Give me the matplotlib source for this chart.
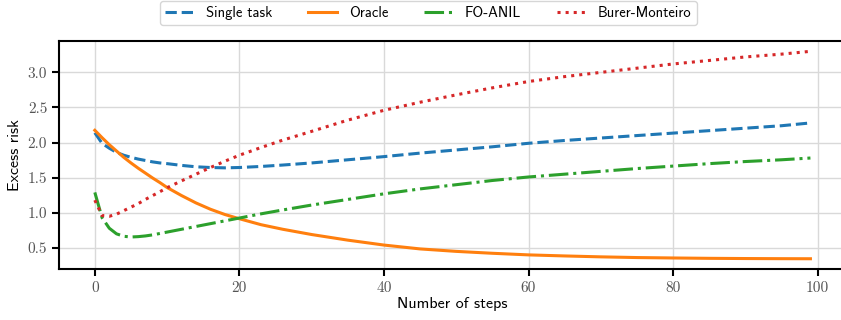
import matplotlib
matplotlib.use("Agg")
import matplotlib.pyplot as plt

# --------------------------------------------------------------------------- #
# values (excess risk vs. number of steps)
# --------------------------------------------------------------------------- #
steps = [0, 1, 2, 3, 4, 5, 6, 7, 8, 9, 10, 12, 14, 16, 18, 20, 23, 26, 30,
         35, 40, 45, 50, 55, 60, 65, 70, 75, 80, 85, 90, 95, 99]

single_task = [2.14, 1.99, 1.92, 1.86, 1.82, 1.79, 1.765, 1.745, 1.725, 1.71,
               1.70, 1.675, 1.655, 1.645, 1.64, 1.645, 1.66, 1.68, 1.71,
               1.755, 1.80, 1.85, 1.895, 1.94, 1.99, 2.03, 2.065, 2.10, 2.135,
               2.17, 2.205, 2.24, 2.28]

oracle = [2.175, 2.07, 1.97, 1.88, 1.79, 1.71, 1.635, 1.565, 1.495, 1.43,
          1.36, 1.245, 1.14, 1.05, 0.975, 0.915, 0.83, 0.765, 0.69, 0.61,
          0.54, 0.485, 0.45, 0.423, 0.40, 0.385, 0.372, 0.362, 0.356, 0.351,
          0.348, 0.346, 0.345]

fo_anil = [1.29, 0.93, 0.78, 0.70, 0.665, 0.655, 0.66, 0.67, 0.685, 0.705,
           0.725, 0.765, 0.805, 0.845, 0.885, 0.925, 0.985, 1.04, 1.11, 1.19,
           1.27, 1.34, 1.40, 1.46, 1.51, 1.55, 1.59, 1.63, 1.665, 1.70, 1.73,
           1.755, 1.78]

burer_monteiro = [1.18, 0.96, 0.95, 0.98, 1.03, 1.08, 1.13, 1.19, 1.245, 1.30,
                  1.357, 1.455, 1.55, 1.645, 1.735, 1.82, 1.93, 2.035, 2.16,
                  2.32, 2.46, 2.575, 2.68, 2.78, 2.87, 2.94, 3.00, 3.06, 3.12,
                  3.17, 3.22, 3.26, 3.30]

x_ticks = [0, 20, 40, 60, 80, 100]
y_ticks = [0.5, 1.0, 1.5, 2.0, 2.5, 3.0]

plt.rcParams["font.family"] = ["cmss10", "DejaVu Sans"]
plt.rcParams["axes.unicode_minus"] = False

fig = plt.figure(figsize=(8.41, 3.2), dpi=100)
ax = fig.add_axes([0.0702, 0.159, 0.936, 0.713])

lw = 2.2
ax.plot(steps, single_task, ls="--", color="#1f77b4", lw=lw, label="Single task")
ax.plot(steps, oracle, ls="-", color="#ff7f0e", lw=lw, label="Oracle")
ax.plot(steps, fo_anil, ls="-.", color="#2ca02c", lw=lw, label="FO-ANIL")
ax.plot(steps, burer_monteiro, ls=":", color="#d62728", lw=lw,
        label="Burer-Monteiro")

ax.set_xticks(x_ticks, labels=[str(t) for t in x_ticks])
ax.set_yticks(y_ticks, labels=[f"{t:.1f}" for t in y_ticks])
plt.setp(ax.get_xticklabels() + ax.get_yticklabels(), family="cmr10")

ax.grid(True, color="#d9d9d9", lw=1.0)
ax.set_axisbelow(True)
ax.tick_params(labelsize=11, length=5, width=1.5, color="black",
               labelcolor="#555555")
for s in ax.spines.values():
    s.set_linewidth(1.5)

ax.set_xlabel("Number of steps", fontsize=11.5, labelpad=2)
ax.set_ylabel("Excess risk", fontsize=11.5, labelpad=4)

handles, labels = ax.get_legend_handles_labels()
fig.legend(handles, labels, loc="upper center", bbox_to_anchor=(0.5095, 0.997),
           ncol=4, fontsize=10.5, frameon=True, handlelength=2.0,
           columnspacing=2.45, borderaxespad=0, borderpad=0.35)

fig.savefig("out.png", dpi=100)
